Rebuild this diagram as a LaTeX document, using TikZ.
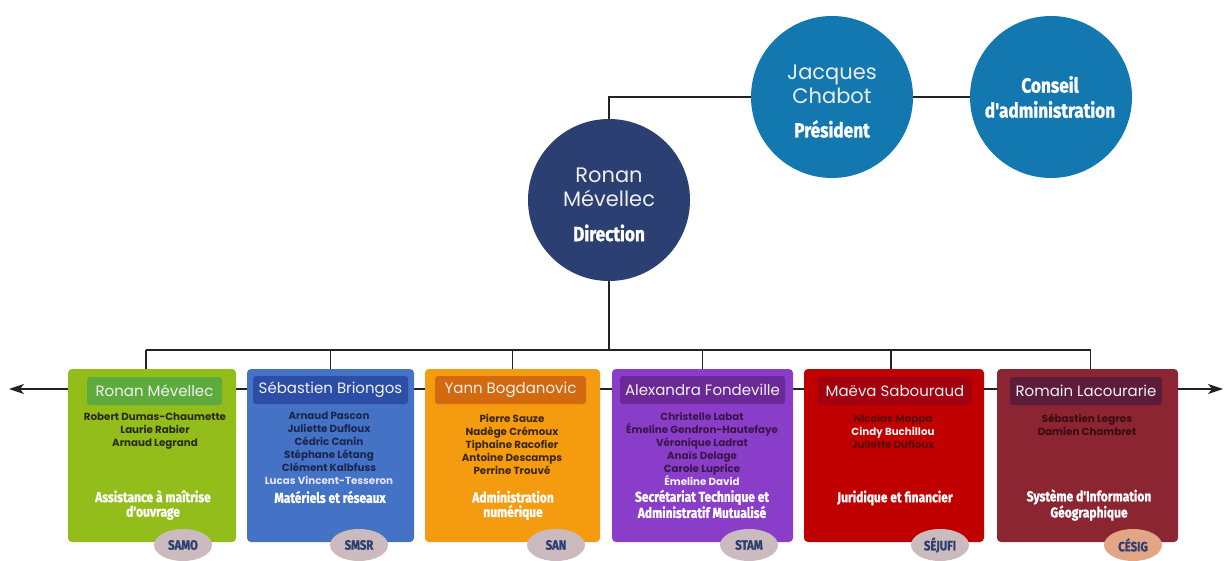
\documentclass[tikz,border=0pt]{standalone}
\usepackage{fontspec}
\setmainfont{Poppins}
\newfontfamily\gothic{Poppins}
\newfontfamily\condf{Fira Sans}[FakeStretch=0.84, BoldFeatures={FakeBold=1.2}]
\usetikzlibrary{arrows.meta,shapes.geometric}
\definecolor{navycirc}{HTML}{2C3F72}
\definecolor{bluecirc}{HTML}{1378B0}
\definecolor{lnc}{HTML}{222222}
\definecolor{gbox}{HTML}{92BD1A}\definecolor{gban}{HTML}{5DAA3D}
\definecolor{bbox}{HTML}{4472C4}\definecolor{bban}{HTML}{2D4EA6}
\definecolor{obox}{HTML}{F59B10}\definecolor{oban}{HTML}{D36A10}
\definecolor{pbox}{HTML}{8A3DC9}\definecolor{pban}{HTML}{6A2996}
\definecolor{rbox}{HTML}{C00000}\definecolor{rban}{HTML}{A2000F}
\definecolor{mbox}{HTML}{8B2532}\definecolor{mban}{HTML}{5C1D3A}
\definecolor{badgetext}{HTML}{2F4070}
\definecolor{badgefill}{HTML}{CBBBBE}
\definecolor{badgeorange}{HTML}{E2A684}
\definecolor{gtxt}{HTML}{2A2A18}
\definecolor{btxt}{HTML}{1B2550}
\definecolor{otxt}{HTML}{3A2810}
\definecolor{ptxt}{HTML}{3A1648}
\definecolor{rtxt}{HTML}{5C0A0A}
\definecolor{mtxt}{HTML}{3D0A12}
\begin{document}
\begin{tikzpicture}[x=1pt,y=-1pt,
  conn/.style={draw=lnc, line width=1.3pt},
  circ/.style={circle, minimum size=162pt, inner sep=0pt, text=white, align=center},
  deptbox/.style={rounded corners=4pt, minimum height=173pt, inner sep=0pt},
  banner/.style={rounded corners=3pt, minimum height=28pt, inner sep=0pt, text=white!94!black, font=\gothic\fontsize{15}{15}\selectfont},
  members/.style={align=center, inner sep=0pt, font=\gothic\bfseries\fontsize{10.3}{13}\selectfont},
  dept/.style={align=center, inner sep=0pt, text=white, font=\condf\bfseries\fontsize{14.3}{14.5}\selectfont},
  badge/.style={ellipse, minimum width=58pt, minimum height=32pt, inner sep=0pt, text=badgetext, font=\condf\bfseries\fontsize{13.5}{13.5}\selectfont},
  big/.style={font=\gothic\fontsize{21}{24}\selectfont},
  cbold/.style={font=\condf\bfseries\fontsize{20.5}{25}\selectfont}]
\fill[white] (0,0) rectangle (1225,561);
\useasboundingbox (0,0) rectangle (1225,561);

% top circles
\node[circ, fill=navycirc] (ronan) at (609,200) {};
\node[big, text=white!93!black, align=center] (ronant) at (609,187) {Ronan\\Mévellec};
\node[cbold, text=white] (ronand) at (609,233) {Direction};
\node[circ, fill=bluecirc] (jacques) at (832,97) {};
\node[big, text=white!93!black, align=center] (jacquest) at (832,84) {Jacques\\Chabot};
\node[cbold, text=white] (jacquesd) at (832,129) {Président};
\node[circ, fill=bluecirc] (conseil) at (1051,97) {};
\node[cbold, text=white, align=center] (conseilt) at (1050,97) {Conseil\\d'administration};

\draw[conn] (ronan.north) |- (jacques.west);
\draw[conn] (jacques.east) -- (conseil.west);

% horizontal arrow line behind boxes
\coordinate (L) at (9,389);
\coordinate (R) at (1223,389);
\draw[conn, {Stealth[length=15pt,width=10pt,inset=4pt]}-{Stealth[length=15pt,width=10pt,inset=4pt]}] (L) -- (R);

% boxes
\node[deptbox, fill=gbox, minimum width=168pt] (b1) at (152,455.5) {};
\node[deptbox, fill=bbox, minimum width=167pt] (b2) at (330.5,455.5) {};
\node[deptbox, fill=obox, minimum width=175pt] (b3) at (512.5,455.5) {};
\node[deptbox, fill=pbox, minimum width=181pt] (b4) at (702.5,455.5) {};
\node[deptbox, fill=rbox, minimum width=180pt] (b5) at (894,455.5) {};
\node[deptbox, fill=mbox, minimum width=181pt] (b6) at (1087.5,455.5) {};

% bus
\coordinate (bus) at (609,350);
\draw[conn] (ronan.south) -- (bus);
\draw[conn] ([xshift=-6pt]b1.north |- bus) -- ([xshift=3pt]b6.north |- bus);
\draw[conn] ([xshift=-6pt]b1.north) -- ([xshift=-6pt]b1.north |- bus);
\draw[conn] (b2.north) -- (b2.north |- bus);
\draw[conn] (b3.north) -- (b3.north |- bus);
\draw[conn] (b4.north) -- (b4.north |- bus);
\draw[conn] ([xshift=-3pt]b5.north) -- ([xshift=-3pt]b5.north |- bus);
\draw[conn] ([xshift=3pt]b6.north) -- ([xshift=3pt]b6.north |- bus);

% banners
\node[banner, fill=gban, minimum width=135pt] (h1) at (154.5,391) {Ronan Mévellec};
\node[banner, fill=bban, minimum width=155pt] (h2) at (330.5,390) {Sébastien Briongos};
\node[banner, fill=oban, minimum width=151pt] (h3) at (510.5,390) {Yann Bogdanovic};
\node[banner, fill=pban, minimum width=165pt] (h4) at (702.5,390) {Alexandra Fondeville};
\node[banner, fill=rban, minimum width=154pt] (h5) at (895,391) {Maëva Sabouraud};
\node[banner, fill=mban, minimum width=152pt] (h6) at (1086,391) {Romain Lacourarie};

% members
\node[members, text=gtxt] (m1) at (155,431) {Robert Dumas-Chaumette\\Laurie Rabier\\Arnaud Legrand};
\node[members, text=btxt] (m2) at (329,448.5) {Arnaud Pascon\\Juliette Dufloux\\Cédric Canin\\Stéphane Létang\\Clément Kalbfuss\\\textcolor{white!90!blue}{Lucas Vincent-Tesseron}};
\node[members, text=otxt] (m3) at (512,444) {Pierre Sauze\\Nadège Crémoux\\Tiphaine Racofier\\Antoine Descamps\\Perrine Trouvé};
\node[members, text=ptxt] (m4) at (702,448.5) {Christelle Labat\\Émeline Gendron-Hautefaye\\Véronique Ladrat\\Anaïs Delage\\Carole Luprice\\\textcolor{white!94!pbox}{Émeline David}};
\node[members, text=rtxt] (m5) at (893,431) {Nicolas Mappa\\\textcolor{white!95!rbox}{Cindy Buchillou}\\Juliette Dufloux};
\node[members, text=mtxt] (m6) at (1087,424.5) {Sébastien Legros\\Damien Chambret};

% departments
\node[dept] (d1) at (153,505) {Assistance à maîtrise\\d'ouvrage};
\node[dept] (d2) at (330,497) {Matériels et réseaux};
\node[dept] (d3) at (513,505.5) {Administration\\numérique};
\node[dept] (d4) at (702,504) {Secrétariat Technique et\\Administratif Mutualisé};
\node[dept] (d5) at (895,498) {Juridique et financier};
\node[dept] (d6) at (1089,505) {Système d'Information\\Géographique};

% badges
\node[badge, fill=badgefill] (s1) at (183,545) {SAMO};
\node[badge, fill=badgefill] (s2) at (359,545) {SMSR};
\node[badge, fill=badgefill] (s3) at (556,545) {SAN};
\node[badge, fill=badgefill] (s4) at (749,545) {STAM};
\node[badge, fill=badgefill] (s5) at (940,545) {SÉJUFI};
\node[badge, fill=badgeorange] (s6) at (1133,545) {CÉSIG};
\end{tikzpicture}
\end{document}
